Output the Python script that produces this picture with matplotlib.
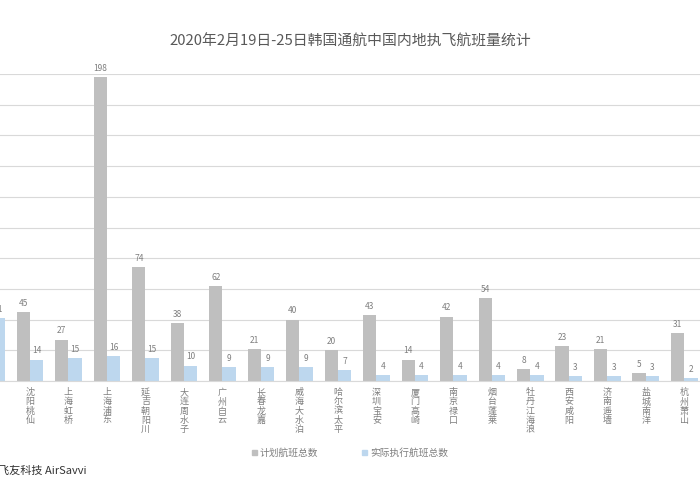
import matplotlib
matplotlib.use("Agg")
import matplotlib.pyplot as plt
import numpy as np
from matplotlib.patches import Patch

plt.rcParams['font.family'] = ['Noto Sans CJK SC', 'DejaVu Sans']

airports = ["青岛流亭", "沈阳桃仙", "上海虹桥", "上海浦东", "延吉朝阳川", "大连周水子", "广州白云",
            "长春龙嘉", "威海大水泊", "哈尔滨太平", "深圳宝安", "厦门高崎", "南京禄口", "烟台蓬莱",
            "牡丹江海浪", "西安咸阳", "济南遥墙", "盐城南洋", "杭州萧山"]
planned = [120, 45, 27, 198, 74, 38, 62, 21, 40, 20, 43, 14, 42, 54, 8, 23, 21, 5, 31]
actual = [41, 14, 15, 16, 15, 10, 9, 9, 9, 7, 4, 4, 4, 4, 4, 3, 3, 3, 2]
series_names = ["计划航班总数", "实际执行航班总数"]
title = "2020年2月19日-25日韩国通航中国内地执飞航班量统计"

gray = "#BFBFBF"
blue = "#BDD7EE"
txt = "#7F7F7F"

fig = plt.figure(figsize=(7, 5), dpi=100)
ax = fig.add_axes([-0.0396, 0.238, 1.0446, 0.614])

x = np.arange(len(airports))
w = 0.346
b1 = ax.bar(x - w / 2, planned, w, color=gray, zorder=2)
b2 = ax.bar(x + w / 2, actual, w, color=blue, zorder=2)
ax.bar_label(b1, padding=3, fontsize=6, color=txt)
ax.bar_label(b2, padding=3, fontsize=6, color=txt)

ax.set_xlim(-0.5, len(airports) - 0.5)
ax.set_ylim(0, 200)
ax.set_yticks(np.arange(0, 201, 20))
ax.yaxis.grid(True, color="#D9D9D9", linewidth=0.8, zorder=0)
ax.tick_params(axis='y', left=False, labelleft=False)
ax.tick_params(axis='x', length=0, pad=5)
ax.set_xticks(x)
ax.set_xticklabels(["\n".join(a) for a in airports], fontsize=6.5, color=txt,
                   va='top', linespacing=1.05)
for s in ["top", "right", "left"]:
    ax.spines[s].set_visible(False)
ax.spines["bottom"].set_color("#D9D9D9")
ax.spines["bottom"].set_linewidth(0.8)

fig.text(0.5, 0.918, title, ha='center', va='center', fontsize=10.7, color="#595959")

handles = [Patch(color=gray), Patch(color=blue)]
fig.legend(handles, series_names, loc='center', bbox_to_anchor=(0.5, 0.094), ncol=2,
           frameon=False, fontsize=7, handlelength=0.5, handleheight=0.5,
           handletextpad=0.3, columnspacing=4.5, labelcolor=txt)

fig.text(-0.003, 0.058, "飞友科技 AirSavvi", ha='left', va='center', fontsize=8, color="#333333")

fig.savefig("out.png", dpi=100)
